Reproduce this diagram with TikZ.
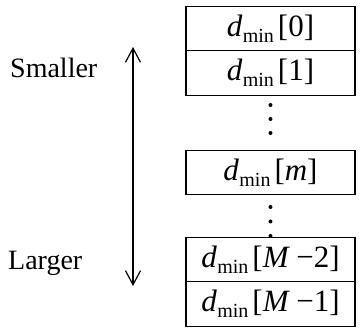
\documentclass[tikz,border=0pt]{standalone}
\usepackage{fontspec}
\setmainfont{Liberation Serif}
\usetikzlibrary{arrows.meta,positioning}
\newcommand{\dmn}[1]{{\itshape d}\kern0.5pt\raisebox{-6pt}{\fontsize{20}{20}\selectfont min}\kern4pt[{#1}]}
\tikzset{
  cell/.style={draw, line width=1.2pt, minimum width=169pt, minimum height=44.5pt, inner sep=0pt, outer sep=0pt, font=\fontsize{31}{33}\selectfont},
  lbl/.style={font=\fontsize{28}{30}\selectfont, inner sep=0pt, anchor=west},
  vdot/.style={circle, fill, inner sep=0pt, minimum size=4pt},
  scalearrow/.style={line width=1.2pt, {Straight Barb[length=14pt,width=15pt,line width=1.2pt]}-{Straight Barb[length=14pt,width=15pt,line width=1.2pt]}}
}
\begin{document}
\begin{tikzpicture}[x=1pt,y=1pt]
\useasboundingbox (0,0) rectangle (360,-329);
\node[cell] (b0) at (270.5,-28.5) {\dmn{0}};
\node[cell, below=0pt of b0] (b1) {\dmn{1}};
\node[vdot] (u1) at (270.5,-105) {};
\node[vdot] (u2) at (270.5,-119) {};
\node[vdot] (u3) at (270.5,-133) {};
\node[cell] (bm) at (270.5,-172.5) {\dmn{\itshape m}};
\node[vdot] (l1) at (270.5,-207) {};
\node[vdot] (l2) at (270.5,-221.5) {};
\node[vdot] (l3) at (270.5,-236) {};
\node[cell] (bM2) at (270.5,-259.5) {\dmn{{\itshape M} −2}};
\node[cell, below=0pt of bM2] (bM1) {\dmn{{\itshape M} −1}};
\node[lbl] (small) at (10,-68) {Smaller};
\node[lbl] (large) at (8,-263) {Larger};
\coordinate (atop) at (133,-47);
\coordinate (abot) at (133,-286);
\draw[scalearrow] (atop) -- (abot);
\end{tikzpicture}
\end{document}
